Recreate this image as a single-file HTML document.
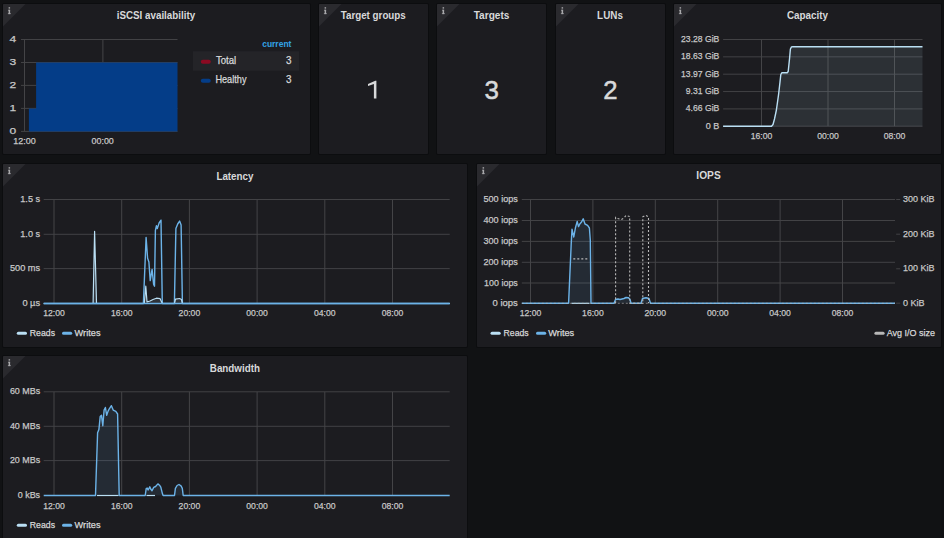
<!DOCTYPE html><html><head><meta charset="utf-8"><style>html,body{margin:0;padding:0;background:#111214;overflow:hidden;width:944px;height:538px}</style></head><body><svg width="944" height="538" viewBox="0 0 944 538" style="display:block;font-family:'Liberation Sans',sans-serif">
<rect width="944" height="538" fill="#111214"/>
<rect x="941.5" y="0" width="2.5" height="538" fill="#0f1012"/>
<rect x="2" y="3" width="309" height="152" rx="2" fill="#0c0d0f"/>
<rect x="3" y="4" width="307" height="150" rx="1" fill="#1c1c20"/>
<path d="M3 5 Q3 4 4 4 L25.5 4 L3 26.5 Z" fill="#2a2a2e"/>
<g fill="#a9a9ab"><rect x="8.6" y="7.2" width="1.5" height="1.4"/><rect x="8.0" y="9.8" width="2.1" height="0.8"/><rect x="8.6" y="9.8" width="1.5" height="4.3"/><rect x="7.9" y="13.3" width="2.9" height="0.8"/></g>
<text x="116.70" y="19.30" font-size="10.8" fill="#d8d9da" font-weight="bold" textLength="78.50" lengthAdjust="spacingAndGlyphs">iSCSI availability</text>
<line x1="21" y1="39.5" x2="177.5" y2="39.5" stroke="#424245" stroke-width="1"/>
<text x="9.60" y="41.90" font-size="9.8" fill="#c8c8c8" font-weight="normal" stroke="#c8c8c8" stroke-width="0.25" textLength="6.70" lengthAdjust="spacingAndGlyphs">4</text>
<line x1="21" y1="62.5" x2="177.5" y2="62.5" stroke="#424245" stroke-width="1"/>
<text x="9.60" y="64.90" font-size="9.8" fill="#c8c8c8" font-weight="normal" stroke="#c8c8c8" stroke-width="0.25" textLength="6.70" lengthAdjust="spacingAndGlyphs">3</text>
<line x1="21" y1="85.4" x2="177.5" y2="85.4" stroke="#424245" stroke-width="1"/>
<text x="9.60" y="87.80" font-size="9.8" fill="#c8c8c8" font-weight="normal" stroke="#c8c8c8" stroke-width="0.25" textLength="6.70" lengthAdjust="spacingAndGlyphs">2</text>
<line x1="21" y1="108.4" x2="177.5" y2="108.4" stroke="#424245" stroke-width="1"/>
<text x="9.60" y="110.80" font-size="9.8" fill="#c8c8c8" font-weight="normal" stroke="#c8c8c8" stroke-width="0.25" textLength="6.70" lengthAdjust="spacingAndGlyphs">1</text>
<line x1="21" y1="131.4" x2="177.5" y2="131.4" stroke="#424245" stroke-width="1"/>
<text x="9.60" y="133.80" font-size="9.8" fill="#c8c8c8" font-weight="normal" stroke="#c8c8c8" stroke-width="0.25" textLength="6.70" lengthAdjust="spacingAndGlyphs">0</text>
<line x1="24.5" y1="39.5" x2="24.5" y2="131.4" stroke="#444447"/>
<line x1="102.9" y1="39.5" x2="102.9" y2="131.4" stroke="#444447"/>
<path d="M28.9 131.4 L28.9 108.4 L36.1 108.4 L36.1 62.5 L177.5 62.5 L177.5 131.4 Z" fill="#043d88"/>
<text x="13.20" y="144.30" font-size="9.8" fill="#c8c8c8" font-weight="normal" stroke="#c8c8c8" stroke-width="0.25" textLength="22.50" lengthAdjust="spacingAndGlyphs">12:00</text>
<text x="91.50" y="144.30" font-size="9.8" fill="#c8c8c8" font-weight="normal" stroke="#c8c8c8" stroke-width="0.25" textLength="22.30" lengthAdjust="spacingAndGlyphs">00:00</text>
<text x="262.20" y="46.60" font-size="9.6" fill="#33a3e5" font-weight="bold" textLength="29.20" lengthAdjust="spacingAndGlyphs">current</text>
<rect x="193" y="51.2" width="106" height="19.5" fill="#242428"/>
<rect x="200.8" y="59.7" width="10" height="4" rx="2" fill="#8c0a22"/>
<text x="215.90" y="63.70" font-size="10.3" fill="#d8d9da" font-weight="normal" stroke="#d8d9da" stroke-width="0.25" textLength="20.30" lengthAdjust="spacingAndGlyphs">Total</text>
<text x="286.00" y="63.70" font-size="10.3" fill="#d8d9da" font-weight="normal" stroke="#d8d9da" stroke-width="0.25" textLength="5.50" lengthAdjust="spacingAndGlyphs">3</text>
<rect x="200.8" y="78.8" width="10" height="4" rx="2" fill="#043d88"/>
<text x="215.40" y="82.90" font-size="10.3" fill="#d8d9da" font-weight="normal" stroke="#d8d9da" stroke-width="0.25" textLength="31.10" lengthAdjust="spacingAndGlyphs">Healthy</text>
<text x="286.00" y="82.90" font-size="10.3" fill="#d8d9da" font-weight="normal" stroke="#d8d9da" stroke-width="0.25" textLength="5.50" lengthAdjust="spacingAndGlyphs">3</text>
<rect x="318" y="3" width="111" height="152" rx="2" fill="#0c0d0f"/>
<rect x="319" y="4" width="109" height="150" rx="1" fill="#1c1c20"/>
<path d="M319 5 Q319 4 320 4 L341.5 4 L319 26.5 Z" fill="#2a2a2e"/>
<g fill="#a9a9ab"><rect x="324.6" y="7.2" width="1.5" height="1.4"/><rect x="324.0" y="9.8" width="2.1" height="0.8"/><rect x="324.6" y="9.8" width="1.5" height="4.3"/><rect x="323.9" y="13.3" width="2.9" height="0.8"/></g>
<text x="340.70" y="19.20" font-size="10.8" fill="#d8d9da" font-weight="bold" textLength="65.10" lengthAdjust="spacingAndGlyphs">Target groups</text>
<path d="M375.3 80.8 L376.4 80.8 L376.4 98.6 L373.9 98.6 L373.9 84.0 L368.0 86.1 L368.0 83.9 Z" fill="#d8d9da"/>
<rect x="436" y="3" width="111" height="152" rx="2" fill="#0c0d0f"/>
<rect x="437" y="4" width="109" height="150" rx="1" fill="#1c1c20"/>
<path d="M437 5 Q437 4 438 4 L459.5 4 L437 26.5 Z" fill="#2a2a2e"/>
<g fill="#a9a9ab"><rect x="442.6" y="7.2" width="1.5" height="1.4"/><rect x="442.0" y="9.8" width="2.1" height="0.8"/><rect x="442.6" y="9.8" width="1.5" height="4.3"/><rect x="441.9" y="13.3" width="2.9" height="0.8"/></g>
<text x="473.70" y="19.20" font-size="10.8" fill="#d8d9da" font-weight="bold" textLength="35.70" lengthAdjust="spacingAndGlyphs">Targets</text>
<text x="484.50" y="98.7" font-size="25.5" fill="#d8d9da" stroke="#d8d9da" stroke-width="0.5" textLength="14.40" lengthAdjust="spacingAndGlyphs">3</text>
<rect x="555" y="3" width="111" height="152" rx="2" fill="#0c0d0f"/>
<rect x="556" y="4" width="109" height="150" rx="1" fill="#1c1c20"/>
<path d="M556 5 Q556 4 557 4 L578.5 4 L556 26.5 Z" fill="#2a2a2e"/>
<g fill="#a9a9ab"><rect x="561.6" y="7.2" width="1.5" height="1.4"/><rect x="561.0" y="9.8" width="2.1" height="0.8"/><rect x="561.6" y="9.8" width="1.5" height="4.3"/><rect x="560.9" y="13.3" width="2.9" height="0.8"/></g>
<text x="597.10" y="19.20" font-size="10.8" fill="#d8d9da" font-weight="bold" textLength="25.80" lengthAdjust="spacingAndGlyphs">LUNs</text>
<text x="603.30" y="98.7" font-size="25.5" fill="#d8d9da" stroke="#d8d9da" stroke-width="0.5" textLength="14.30" lengthAdjust="spacingAndGlyphs">2</text>
<rect x="673" y="3" width="269" height="152" rx="2" fill="#0c0d0f"/>
<rect x="674" y="4" width="267" height="150" rx="1" fill="#1c1c20"/>
<path d="M674 5 Q674 4 675 4 L696.5 4 L674 26.5 Z" fill="#2a2a2e"/>
<g fill="#a9a9ab"><rect x="679.6" y="7.2" width="1.5" height="1.4"/><rect x="679.0" y="9.8" width="2.1" height="0.8"/><rect x="679.6" y="9.8" width="1.5" height="4.3"/><rect x="678.9" y="13.3" width="2.9" height="0.8"/></g>
<text x="787.00" y="19.20" font-size="10.8" fill="#d8d9da" font-weight="bold" textLength="41.00" lengthAdjust="spacingAndGlyphs">Capacity</text>
<line x1="723.1" y1="39.5" x2="922.5" y2="39.5" stroke="#424245" stroke-width="1"/>
<text x="681.10" y="42.00" font-size="9.8" fill="#c8c8c8" font-weight="normal" stroke="#c8c8c8" stroke-width="0.25" textLength="38.20" lengthAdjust="spacingAndGlyphs">23.28 GiB</text>
<line x1="723.1" y1="56.85" x2="922.5" y2="56.85" stroke="#424245" stroke-width="1"/>
<text x="681.10" y="59.35" font-size="9.8" fill="#c8c8c8" font-weight="normal" stroke="#c8c8c8" stroke-width="0.25" textLength="38.20" lengthAdjust="spacingAndGlyphs">18.63 GiB</text>
<line x1="723.1" y1="74.2" x2="922.5" y2="74.2" stroke="#424245" stroke-width="1"/>
<text x="681.10" y="76.70" font-size="9.8" fill="#c8c8c8" font-weight="normal" stroke="#c8c8c8" stroke-width="0.25" textLength="38.20" lengthAdjust="spacingAndGlyphs">13.97 GiB</text>
<line x1="723.1" y1="91.55" x2="922.5" y2="91.55" stroke="#424245" stroke-width="1"/>
<text x="685.80" y="94.05" font-size="9.8" fill="#c8c8c8" font-weight="normal" stroke="#c8c8c8" stroke-width="0.25" textLength="33.50" lengthAdjust="spacingAndGlyphs">9.31 GiB</text>
<line x1="723.1" y1="108.9" x2="922.5" y2="108.9" stroke="#424245" stroke-width="1"/>
<text x="685.80" y="111.40" font-size="9.8" fill="#c8c8c8" font-weight="normal" stroke="#c8c8c8" stroke-width="0.25" textLength="33.50" lengthAdjust="spacingAndGlyphs">4.66 GiB</text>
<line x1="723.1" y1="126.25" x2="922.5" y2="126.25" stroke="#424245" stroke-width="1"/>
<text x="705.80" y="128.75" font-size="9.8" fill="#c8c8c8" font-weight="normal" stroke="#c8c8c8" stroke-width="0.25" textLength="13.50" lengthAdjust="spacingAndGlyphs">0 B</text>
<line x1="761.5" y1="39.5" x2="761.5" y2="126.25" stroke="#444447"/>
<text x="750.70" y="139.00" font-size="9.8" fill="#c8c8c8" font-weight="normal" stroke="#c8c8c8" stroke-width="0.25" textLength="21.60" lengthAdjust="spacingAndGlyphs">16:00</text>
<line x1="828.0" y1="39.5" x2="828.0" y2="126.25" stroke="#444447"/>
<text x="817.20" y="139.00" font-size="9.8" fill="#c8c8c8" font-weight="normal" stroke="#c8c8c8" stroke-width="0.25" textLength="21.60" lengthAdjust="spacingAndGlyphs">00:00</text>
<line x1="894.5" y1="39.5" x2="894.5" y2="126.25" stroke="#444447"/>
<text x="883.70" y="139.00" font-size="9.8" fill="#c8c8c8" font-weight="normal" stroke="#c8c8c8" stroke-width="0.25" textLength="21.60" lengthAdjust="spacingAndGlyphs">08:00</text>
<path d="M723.1 126.3 L771.5 126.3 L773.0 124.5 L774.5 119.0 L776.4 110.0 L778.5 95.0 L780.0 82.0 L780.8 74.5 L781.8 72.8 L787.2 72.8 L788.2 71.5 L789.6 58.0 L790.4 49.0 L791.5 46.9 L792.8 46.7 L922.5 46.7 L922.5 126.3 L723.1 126.3 Z" fill="#badff4" fill-opacity="0.1"/>
<path d="M723.1 126.3 L771.5 126.3 L773.0 124.5 L774.5 119.0 L776.4 110.0 L778.5 95.0 L780.0 82.0 L780.8 74.5 L781.8 72.8 L787.2 72.8 L788.2 71.5 L789.6 58.0 L790.4 49.0 L791.5 46.9 L792.8 46.7 L922.5 46.7" fill="none" stroke="#badff4" stroke-width="1.4" stroke-linejoin="round"/>
<rect x="2" y="163" width="466" height="185" rx="2" fill="#0c0d0f"/>
<rect x="3" y="164" width="464" height="183" rx="1" fill="#1c1c20"/>
<path d="M3 165 Q3 164 4 164 L25.5 164 L3 186.5 Z" fill="#2a2a2e"/>
<g fill="#a9a9ab"><rect x="8.6" y="167.2" width="1.5" height="1.4"/><rect x="8.0" y="169.8" width="2.1" height="0.8"/><rect x="8.6" y="169.8" width="1.5" height="4.3"/><rect x="7.9" y="173.3" width="2.9" height="0.8"/></g>
<text x="216.40" y="179.50" font-size="10.8" fill="#d8d9da" font-weight="bold" textLength="37.10" lengthAdjust="spacingAndGlyphs">Latency</text>
<line x1="43.7" y1="199.5" x2="449.7" y2="199.5" stroke="#424245" stroke-width="1"/>
<line x1="43.7" y1="234.3" x2="449.7" y2="234.3" stroke="#424245" stroke-width="1"/>
<line x1="43.7" y1="268.6" x2="449.7" y2="268.6" stroke="#424245" stroke-width="1"/>
<line x1="54.0" y1="199.5" x2="54.0" y2="303" stroke="#444447"/>
<line x1="121.7" y1="199.5" x2="121.7" y2="303" stroke="#444447"/>
<line x1="189.4" y1="199.5" x2="189.4" y2="303" stroke="#444447"/>
<line x1="257.1" y1="199.5" x2="257.1" y2="303" stroke="#444447"/>
<line x1="324.8" y1="199.5" x2="324.8" y2="303" stroke="#444447"/>
<line x1="392.5" y1="199.5" x2="392.5" y2="303" stroke="#444447"/>
<text x="20.30" y="202.00" font-size="9.8" fill="#c8c8c8" font-weight="normal" stroke="#c8c8c8" stroke-width="0.25" textLength="19.80" lengthAdjust="spacingAndGlyphs">1.5 s</text>
<text x="20.30" y="236.80" font-size="9.8" fill="#c8c8c8" font-weight="normal" stroke="#c8c8c8" stroke-width="0.25" textLength="19.80" lengthAdjust="spacingAndGlyphs">1.0 s</text>
<text x="9.90" y="271.10" font-size="9.8" fill="#c8c8c8" font-weight="normal" stroke="#c8c8c8" stroke-width="0.25" textLength="30.20" lengthAdjust="spacingAndGlyphs">500 ms</text>
<text x="22.40" y="305.90" font-size="9.8" fill="#c8c8c8" font-weight="normal" stroke="#c8c8c8" stroke-width="0.25" textLength="17.70" lengthAdjust="spacingAndGlyphs">0 µs</text>
<text x="43.20" y="316.30" font-size="9.8" fill="#c8c8c8" font-weight="normal" stroke="#c8c8c8" stroke-width="0.25" textLength="21.60" lengthAdjust="spacingAndGlyphs">12:00</text>
<text x="110.90" y="316.30" font-size="9.8" fill="#c8c8c8" font-weight="normal" stroke="#c8c8c8" stroke-width="0.25" textLength="21.60" lengthAdjust="spacingAndGlyphs">16:00</text>
<text x="178.60" y="316.30" font-size="9.8" fill="#c8c8c8" font-weight="normal" stroke="#c8c8c8" stroke-width="0.25" textLength="21.60" lengthAdjust="spacingAndGlyphs">20:00</text>
<text x="246.30" y="316.30" font-size="9.8" fill="#c8c8c8" font-weight="normal" stroke="#c8c8c8" stroke-width="0.25" textLength="21.60" lengthAdjust="spacingAndGlyphs">00:00</text>
<text x="314.00" y="316.30" font-size="9.8" fill="#c8c8c8" font-weight="normal" stroke="#c8c8c8" stroke-width="0.25" textLength="21.60" lengthAdjust="spacingAndGlyphs">04:00</text>
<text x="381.70" y="316.30" font-size="9.8" fill="#c8c8c8" font-weight="normal" stroke="#c8c8c8" stroke-width="0.25" textLength="21.60" lengthAdjust="spacingAndGlyphs">08:00</text>
<path d="M43.7 303.5 L93.1 303.5 L94.6 231.4 L96.5 303.5 L144.3 303.5 L145.8 286.2 L147.0 302.0 L150.0 301.0 L153.0 299.5 L156.4 298.2 L160.0 298.6 L162.3 303.5 L174.4 303.5 L175.5 299.2 L179.6 298.5 L181.5 299.5 L182.4 303.5 L449.7 303.5" fill="#badff4" fill-opacity="0.12" stroke="none"/>
<path d="M43.7 303.5 L143.4 303.5 L146.1 237.5 L147.6 258.3 L148.9 262.0 L150.2 280.6 L152.1 269.4 L153.6 284.3 L154.5 286.2 L155.4 230.4 L156.4 225.8 L157.3 228.6 L159.1 223.0 L161.0 220.2 L162.3 303.5 L174.4 303.5 L175.9 228.6 L177.7 224.0 L179.6 221.1 L181.1 224.9 L182.4 303.5 L449.7 303.5" fill="none" stroke="#6cb3e8" stroke-width="1.4" stroke-linejoin="round"/>
<path d="M43.7 303.5 L93.1 303.5 L94.6 231.4 L96.5 303.5 L144.3 303.5 L145.8 286.2 L147.0 302.0 L150.0 301.0 L153.0 299.5 L156.4 298.2 L160.0 298.6 L162.3 303.5 L174.4 303.5 L175.5 299.2 L179.6 298.5 L181.5 299.5 L182.4 303.5 L449.7 303.5" fill="none" stroke="#badff4" stroke-width="1.2" stroke-linejoin="round"/>
<line x1="43.7" y1="303.5" x2="449.7" y2="303.5" stroke="#6cb3e8" stroke-width="1.4"/>
<rect x="16.8" y="331.7" width="10.2" height="3.0" rx="1.5" fill="#badff4"/>
<text x="29.80" y="336.10" font-size="9.8" fill="#d8d9da" font-weight="normal" stroke="#d8d9da" stroke-width="0.25" textLength="25.20" lengthAdjust="spacingAndGlyphs">Reads</text>
<rect x="62" y="331.7" width="10.2" height="3.0" rx="1.5" fill="#6cb3e8"/>
<text x="74.60" y="336.10" font-size="9.8" fill="#d8d9da" font-weight="normal" stroke="#d8d9da" stroke-width="0.25" textLength="25.90" lengthAdjust="spacingAndGlyphs">Writes</text>
<rect x="476" y="163" width="466" height="185" rx="2" fill="#0c0d0f"/>
<rect x="477" y="164" width="464" height="183" rx="1" fill="#1c1c20"/>
<path d="M477 165 Q477 164 478 164 L499.5 164 L477 186.5 Z" fill="#2a2a2e"/>
<g fill="#a9a9ab"><rect x="482.6" y="167.2" width="1.5" height="1.4"/><rect x="482.0" y="169.8" width="2.1" height="0.8"/><rect x="482.6" y="169.8" width="1.5" height="4.3"/><rect x="481.9" y="173.3" width="2.9" height="0.8"/></g>
<text x="696.30" y="179.20" font-size="10.8" fill="#d8d9da" font-weight="bold" textLength="24.40" lengthAdjust="spacingAndGlyphs">IOPS</text>
<line x1="521.8" y1="199.5" x2="895.0" y2="199.5" stroke="#424245" stroke-width="1"/>
<line x1="521.8" y1="220.5" x2="895.0" y2="220.5" stroke="#424245" stroke-width="1"/>
<line x1="521.8" y1="241.4" x2="895.0" y2="241.4" stroke="#424245" stroke-width="1"/>
<line x1="521.8" y1="262.3" x2="895.0" y2="262.3" stroke="#424245" stroke-width="1"/>
<line x1="521.8" y1="283.0" x2="895.0" y2="283.0" stroke="#424245" stroke-width="1"/>
<line x1="530.5" y1="199.5" x2="530.5" y2="303" stroke="#444447"/>
<line x1="592.9" y1="199.5" x2="592.9" y2="303" stroke="#444447"/>
<line x1="655.3" y1="199.5" x2="655.3" y2="303" stroke="#444447"/>
<line x1="717.7" y1="199.5" x2="717.7" y2="303" stroke="#444447"/>
<line x1="780.1" y1="199.5" x2="780.1" y2="303" stroke="#444447"/>
<line x1="842.5" y1="199.5" x2="842.5" y2="303" stroke="#444447"/>
<text x="483.50" y="202.00" font-size="9.8" fill="#c8c8c8" font-weight="normal" stroke="#c8c8c8" stroke-width="0.25" textLength="34.30" lengthAdjust="spacingAndGlyphs">500 iops</text>
<text x="483.50" y="223.00" font-size="9.8" fill="#c8c8c8" font-weight="normal" stroke="#c8c8c8" stroke-width="0.25" textLength="34.30" lengthAdjust="spacingAndGlyphs">400 iops</text>
<text x="483.50" y="243.90" font-size="9.8" fill="#c8c8c8" font-weight="normal" stroke="#c8c8c8" stroke-width="0.25" textLength="34.30" lengthAdjust="spacingAndGlyphs">300 iops</text>
<text x="483.50" y="264.80" font-size="9.8" fill="#c8c8c8" font-weight="normal" stroke="#c8c8c8" stroke-width="0.25" textLength="34.30" lengthAdjust="spacingAndGlyphs">200 iops</text>
<text x="484.10" y="285.50" font-size="9.8" fill="#c8c8c8" font-weight="normal" stroke="#c8c8c8" stroke-width="0.25" textLength="33.70" lengthAdjust="spacingAndGlyphs">100 iops</text>
<text x="492.60" y="305.70" font-size="9.8" fill="#c8c8c8" font-weight="normal" stroke="#c8c8c8" stroke-width="0.25" textLength="25.20" lengthAdjust="spacingAndGlyphs">0 iops</text>
<text x="519.70" y="316.30" font-size="9.8" fill="#c8c8c8" font-weight="normal" stroke="#c8c8c8" stroke-width="0.25" textLength="21.60" lengthAdjust="spacingAndGlyphs">12:00</text>
<text x="582.10" y="316.30" font-size="9.8" fill="#c8c8c8" font-weight="normal" stroke="#c8c8c8" stroke-width="0.25" textLength="21.60" lengthAdjust="spacingAndGlyphs">16:00</text>
<text x="644.50" y="316.30" font-size="9.8" fill="#c8c8c8" font-weight="normal" stroke="#c8c8c8" stroke-width="0.25" textLength="21.60" lengthAdjust="spacingAndGlyphs">20:00</text>
<text x="706.90" y="316.30" font-size="9.8" fill="#c8c8c8" font-weight="normal" stroke="#c8c8c8" stroke-width="0.25" textLength="21.60" lengthAdjust="spacingAndGlyphs">00:00</text>
<text x="769.30" y="316.30" font-size="9.8" fill="#c8c8c8" font-weight="normal" stroke="#c8c8c8" stroke-width="0.25" textLength="21.60" lengthAdjust="spacingAndGlyphs">04:00</text>
<text x="831.70" y="316.30" font-size="9.8" fill="#c8c8c8" font-weight="normal" stroke="#c8c8c8" stroke-width="0.25" textLength="21.60" lengthAdjust="spacingAndGlyphs">08:00</text>
<line x1="896.2" y1="199.5" x2="900.2" y2="199.5" stroke="#424245" stroke-width="1"/>
<text x="903.00" y="202.00" font-size="9.8" fill="#c8c8c8" font-weight="normal" stroke="#c8c8c8" stroke-width="0.25" textLength="31.40" lengthAdjust="spacingAndGlyphs">300 KiB</text>
<line x1="896.2" y1="234.2" x2="900.2" y2="234.2" stroke="#424245" stroke-width="1"/>
<text x="903.00" y="236.70" font-size="9.8" fill="#c8c8c8" font-weight="normal" stroke="#c8c8c8" stroke-width="0.25" textLength="31.40" lengthAdjust="spacingAndGlyphs">200 KiB</text>
<line x1="896.2" y1="268.8" x2="900.2" y2="268.8" stroke="#424245" stroke-width="1"/>
<text x="903.00" y="271.30" font-size="9.8" fill="#c8c8c8" font-weight="normal" stroke="#c8c8c8" stroke-width="0.25" textLength="31.40" lengthAdjust="spacingAndGlyphs">100 KiB</text>
<line x1="896.2" y1="303.2" x2="900.2" y2="303.2" stroke="#424245" stroke-width="1"/>
<text x="903.00" y="305.70" font-size="9.8" fill="#c8c8c8" font-weight="normal" stroke="#c8c8c8" stroke-width="0.25" textLength="21.60" lengthAdjust="spacingAndGlyphs">0 KiB</text>
<path d="M521.8 303.3 L568.6 303.3 L571.2 244.0 L572.0 229.2 L573.8 237.0 L575.4 228.0 L577.2 221.4 L578.5 226.6 L579.8 224.0 L581.5 222.0 L583.2 218.8 L585.0 224.0 L587.6 225.3 L589.4 228.0 L590.3 240.0 L591.0 303.3 L614.0 303.3 L615.5 299.5 L618.0 299.0 L620.0 299.5 L622.0 299.0 L624.0 298.5 L626.0 297.5 L628.5 297.8 L630.0 299.5 L631.0 303.3 L641.0 303.3 L642.5 298.5 L646.0 297.8 L649.0 298.5 L650.5 303.3 L895.0 303.3 Z" fill="#6cb3e8" fill-opacity="0.1"/>
<path d="M521.8 303.3 L568.6 303.3 L571.2 244.0 L572.0 229.2 L573.8 237.0 L575.4 228.0 L577.2 221.4 L578.5 226.6 L579.8 224.0 L581.5 222.0 L583.2 218.8 L585.0 224.0 L587.6 225.3 L589.4 228.0 L590.3 240.0 L591.0 303.3 L614.0 303.3 L615.5 299.5 L618.0 299.0 L620.0 299.5 L622.0 299.0 L624.0 298.5 L626.0 297.5 L628.5 297.8 L630.0 299.5 L631.0 303.3 L641.0 303.3 L642.5 298.5 L646.0 297.8 L649.0 298.5 L650.5 303.3 L895.0 303.3" fill="none" stroke="#6cb3e8" stroke-width="1.4" stroke-linejoin="round"/>
<line x1="571.5" y1="303.3" x2="589.5" y2="303.3" stroke="#badff4" stroke-width="1.2"/>
<path d="M573.3 258.9 L587.6 258.9" fill="none" stroke="#b8b8b8" stroke-width="1.1" stroke-dasharray="2 2"/>
<path d="M615.6 303.3 L615.6 217.5 L617.5 218.5 L621.5 219.5 L624.0 218.0 L626.0 215.5 L629.7 216.6 L629.7 303.3 L642.8 303.3 L642.8 216.9 L645.5 215.3 L648.5 216.9 L648.5 303.3" fill="none" stroke="#b8b8b8" stroke-width="1.1" stroke-dasharray="2 2"/>
<line x1="521.8" y1="303.3" x2="895.0" y2="303.3" stroke="#b8b8b8" stroke-opacity="0.6" stroke-width="1" stroke-dasharray="2 2"/>
<rect x="490.5" y="331.7" width="10.2" height="3.0" rx="1.5" fill="#badff4"/>
<text x="503.50" y="336.10" font-size="9.8" fill="#d8d9da" font-weight="normal" stroke="#d8d9da" stroke-width="0.25" textLength="25.20" lengthAdjust="spacingAndGlyphs">Reads</text>
<rect x="536" y="331.7" width="10.2" height="3.0" rx="1.5" fill="#6cb3e8"/>
<text x="548.30" y="336.10" font-size="9.8" fill="#d8d9da" font-weight="normal" stroke="#d8d9da" stroke-width="0.25" textLength="25.90" lengthAdjust="spacingAndGlyphs">Writes</text>
<rect x="874.4" y="331.7" width="10.2" height="3.0" rx="1.5" fill="#b8b8b8"/>
<text x="886.70" y="336.10" font-size="9.8" fill="#d8d9da" font-weight="normal" stroke="#d8d9da" stroke-width="0.25" textLength="48.30" lengthAdjust="spacingAndGlyphs">Avg I/O size</text>
<rect x="2" y="355" width="466" height="202" rx="2" fill="#0c0d0f"/>
<rect x="3" y="356" width="464" height="200" rx="1" fill="#1c1c20"/>
<path d="M3 357 Q3 356 4 356 L25.5 356 L3 378.5 Z" fill="#2a2a2e"/>
<g fill="#a9a9ab"><rect x="8.6" y="359.2" width="1.5" height="1.4"/><rect x="8.0" y="361.8" width="2.1" height="0.8"/><rect x="8.6" y="361.8" width="1.5" height="4.3"/><rect x="7.9" y="365.3" width="2.9" height="0.8"/></g>
<text x="209.80" y="371.50" font-size="10.8" fill="#d8d9da" font-weight="bold" textLength="50.10" lengthAdjust="spacingAndGlyphs">Bandwidth</text>
<line x1="43.7" y1="391.8" x2="449.7" y2="391.8" stroke="#424245" stroke-width="1"/>
<line x1="43.7" y1="426.3" x2="449.7" y2="426.3" stroke="#424245" stroke-width="1"/>
<line x1="43.7" y1="460.6" x2="449.7" y2="460.6" stroke="#424245" stroke-width="1"/>
<line x1="54.0" y1="391.8" x2="54.0" y2="495" stroke="#444447"/>
<line x1="121.7" y1="391.8" x2="121.7" y2="495" stroke="#444447"/>
<line x1="189.4" y1="391.8" x2="189.4" y2="495" stroke="#444447"/>
<line x1="257.1" y1="391.8" x2="257.1" y2="495" stroke="#444447"/>
<line x1="324.8" y1="391.8" x2="324.8" y2="495" stroke="#444447"/>
<line x1="392.5" y1="391.8" x2="392.5" y2="495" stroke="#444447"/>
<text x="9.90" y="394.30" font-size="9.8" fill="#c8c8c8" font-weight="normal" stroke="#c8c8c8" stroke-width="0.25" textLength="30.20" lengthAdjust="spacingAndGlyphs">60 MBs</text>
<text x="9.90" y="428.80" font-size="9.8" fill="#c8c8c8" font-weight="normal" stroke="#c8c8c8" stroke-width="0.25" textLength="30.20" lengthAdjust="spacingAndGlyphs">40 MBs</text>
<text x="9.90" y="463.10" font-size="9.8" fill="#c8c8c8" font-weight="normal" stroke="#c8c8c8" stroke-width="0.25" textLength="30.20" lengthAdjust="spacingAndGlyphs">20 MBs</text>
<text x="17.70" y="497.80" font-size="9.8" fill="#c8c8c8" font-weight="normal" stroke="#c8c8c8" stroke-width="0.25" textLength="22.40" lengthAdjust="spacingAndGlyphs">0 kBs</text>
<text x="43.20" y="508.50" font-size="9.8" fill="#c8c8c8" font-weight="normal" stroke="#c8c8c8" stroke-width="0.25" textLength="21.60" lengthAdjust="spacingAndGlyphs">12:00</text>
<text x="110.90" y="508.50" font-size="9.8" fill="#c8c8c8" font-weight="normal" stroke="#c8c8c8" stroke-width="0.25" textLength="21.60" lengthAdjust="spacingAndGlyphs">16:00</text>
<text x="178.60" y="508.50" font-size="9.8" fill="#c8c8c8" font-weight="normal" stroke="#c8c8c8" stroke-width="0.25" textLength="21.60" lengthAdjust="spacingAndGlyphs">20:00</text>
<text x="246.30" y="508.50" font-size="9.8" fill="#c8c8c8" font-weight="normal" stroke="#c8c8c8" stroke-width="0.25" textLength="21.60" lengthAdjust="spacingAndGlyphs">00:00</text>
<text x="314.00" y="508.50" font-size="9.8" fill="#c8c8c8" font-weight="normal" stroke="#c8c8c8" stroke-width="0.25" textLength="21.60" lengthAdjust="spacingAndGlyphs">04:00</text>
<text x="381.70" y="508.50" font-size="9.8" fill="#c8c8c8" font-weight="normal" stroke="#c8c8c8" stroke-width="0.25" textLength="21.60" lengthAdjust="spacingAndGlyphs">08:00</text>
<path d="M43.7 495.5 L95.5 495.5 L97.6 432.8 L98.9 429.6 L100.2 416.6 L101.5 415.3 L102.8 425.7 L104.1 410.1 L105.4 407.5 L106.7 415.3 L108.0 411.4 L109.3 408.8 L111.4 405.7 L113.2 410.1 L115.8 411.4 L117.6 414.0 L119.2 495.5 L145.2 495.5 L146.2 488.7 L147.2 488.1 L148.1 490.0 L149.8 486.8 L150.7 489.0 L152.0 490.7 L153.7 487.4 L155.6 486.5 L157.9 483.9 L159.5 485.2 L160.8 487.1 L162.4 493.6 L163.1 495.5 L174.5 495.5 L175.4 488.4 L177.1 485.5 L179.0 484.5 L181.0 485.8 L182.3 488.4 L183.2 495.5 L449.7 495.5 Z" fill="#6cb3e8" fill-opacity="0.1"/>
<path d="M43.7 495.5 L95.5 495.5 L97.6 432.8 L98.9 429.6 L100.2 416.6 L101.5 415.3 L102.8 425.7 L104.1 410.1 L105.4 407.5 L106.7 415.3 L108.0 411.4 L109.3 408.8 L111.4 405.7 L113.2 410.1 L115.8 411.4 L117.6 414.0 L119.2 495.5 L145.2 495.5 L146.2 488.7 L147.2 488.1 L148.1 490.0 L149.8 486.8 L150.7 489.0 L152.0 490.7 L153.7 487.4 L155.6 486.5 L157.9 483.9 L159.5 485.2 L160.8 487.1 L162.4 493.6 L163.1 495.5 L174.5 495.5 L175.4 488.4 L177.1 485.5 L179.0 484.5 L181.0 485.8 L182.3 488.4 L183.2 495.5 L449.7 495.5" fill="none" stroke="#6cb3e8" stroke-width="1.4" stroke-linejoin="round"/>
<line x1="97" y1="495.5" x2="118.5" y2="495.5" stroke="#badff4" stroke-width="1.2"/>
<line x1="146.5" y1="495.5" x2="155" y2="495.5" stroke="#badff4" stroke-width="1.2"/>
<rect x="16.8" y="523.7" width="10.2" height="3.0" rx="1.5" fill="#badff4"/>
<text x="29.80" y="528.10" font-size="9.8" fill="#d8d9da" font-weight="normal" stroke="#d8d9da" stroke-width="0.25" textLength="25.20" lengthAdjust="spacingAndGlyphs">Reads</text>
<rect x="62" y="523.7" width="10.2" height="3.0" rx="1.5" fill="#6cb3e8"/>
<text x="74.60" y="528.10" font-size="9.8" fill="#d8d9da" font-weight="normal" stroke="#d8d9da" stroke-width="0.25" textLength="25.90" lengthAdjust="spacingAndGlyphs">Writes</text>
</svg></body></html>
